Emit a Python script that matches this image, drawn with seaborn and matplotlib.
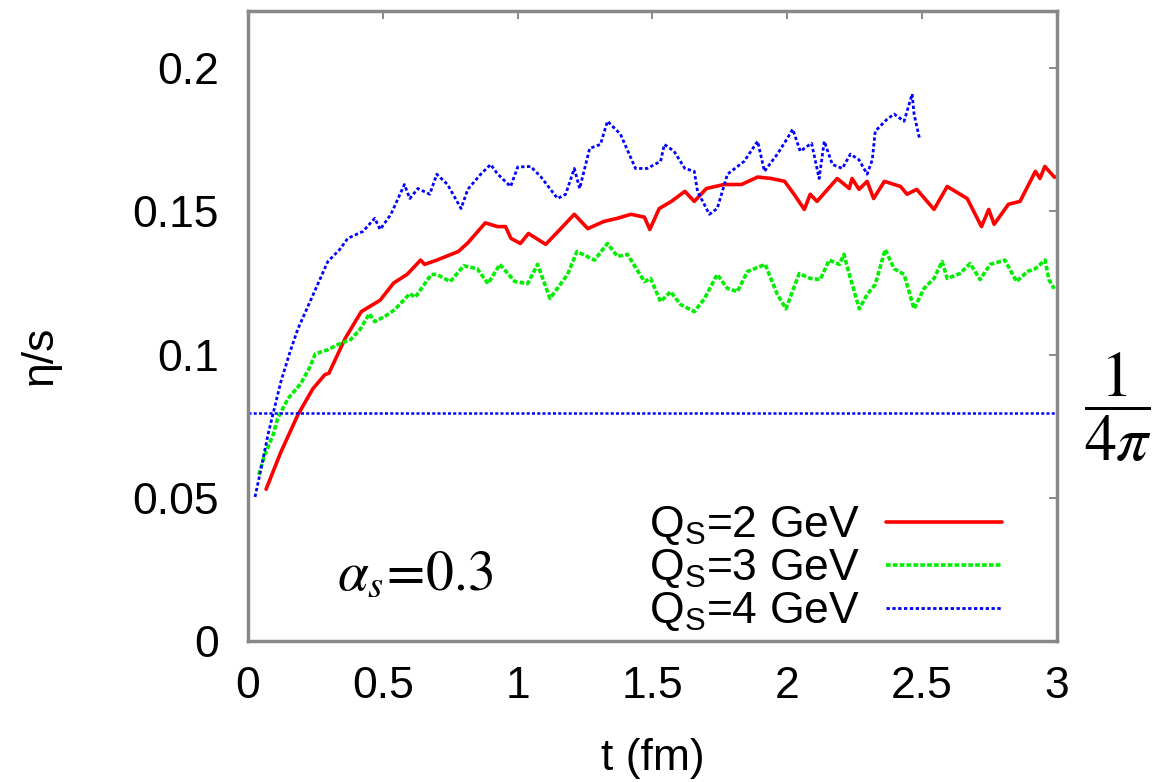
import matplotlib
matplotlib.use("Agg")
import matplotlib.pyplot as plt
import numpy as np
import seaborn as sns

# eta/s vs time
t_q2 = [0.067, 0.122, 0.185, 0.24, 0.285, 0.30, 0.36, 0.42, 0.49, 0.54, 0.59, 0.64, 0.655,
        0.70, 0.78, 0.815, 0.88, 0.925, 0.955, 0.975, 1.01, 1.04, 1.104, 1.16, 1.21, 1.26,
        1.32, 1.37, 1.42, 1.47, 1.49, 1.525, 1.57, 1.62, 1.655, 1.70, 1.765, 1.83, 1.89,
        1.94, 1.99, 2.025, 2.063, 2.085, 2.11, 2.185, 2.23, 2.24, 2.266, 2.296, 2.32, 2.36,
        2.42, 2.444, 2.48, 2.544, 2.593, 2.667, 2.72, 2.747, 2.767, 2.82, 2.863, 2.92,
        2.937, 2.955, 2.99, 3.0]
eta_q2 = [0.053, 0.066, 0.079, 0.088, 0.093, 0.0935, 0.1056, 0.115, 0.119, 0.125, 0.128,
          0.133, 0.1315, 0.133, 0.136, 0.139, 0.146, 0.1447, 0.1447, 0.1406, 0.1388, 0.1423,
          0.1385, 0.144, 0.149, 0.144, 0.1465, 0.1476, 0.149, 0.148, 0.1437, 0.151, 0.1535,
          0.157, 0.1535, 0.158, 0.1594, 0.1594, 0.162, 0.1615, 0.1605, 0.156, 0.1507, 0.156,
          0.1535, 0.1615, 0.158, 0.1615, 0.1577, 0.1605, 0.1545, 0.1605, 0.1587, 0.156,
          0.1577, 0.1507, 0.1587, 0.1545, 0.1447, 0.1507, 0.1455, 0.1525, 0.1535, 0.164,
          0.1615, 0.1657, 0.162, 0.162]

t_q3 = [0.04, 0.062, 0.093, 0.11, 0.148, 0.196, 0.23, 0.25, 0.296, 0.34, 0.38, 0.415, 0.45,
        0.47, 0.507, 0.544, 0.60, 0.62, 0.68, 0.70, 0.75, 0.80, 0.85, 0.89, 0.934, 0.99,
        1.037, 1.074, 1.12, 1.185, 1.22, 1.285, 1.333, 1.37, 1.407, 1.47, 1.493, 1.53,
        1.567, 1.604, 1.655, 1.693, 1.74, 1.778, 1.815, 1.852, 1.918, 1.963, 1.995, 2.044,
        2.085, 2.122, 2.155, 2.193, 2.21, 2.23, 2.267, 2.296, 2.326, 2.363, 2.396, 2.433,
        2.47, 2.507, 2.544, 2.574, 2.593, 2.64, 2.678, 2.715, 2.752, 2.807, 2.85, 2.89,
        2.92, 2.956, 2.97, 2.99]
eta_q3 = [0.058, 0.065, 0.072, 0.0777, 0.0846, 0.0899, 0.0958, 0.1003, 0.1017, 0.1038,
          0.1052, 0.1087, 0.1143, 0.1115, 0.1133, 0.1157, 0.1213, 0.120, 0.128, 0.128,
          0.1255, 0.131, 0.130, 0.1248, 0.1315, 0.1255, 0.1248, 0.1315, 0.1196, 0.128,
          0.136, 0.133, 0.1388, 0.1343, 0.135, 0.1255, 0.1266, 0.1185, 0.122, 0.1175, 0.115,
          0.1196, 0.128, 0.1231, 0.122, 0.129, 0.1315, 0.121, 0.116, 0.1283, 0.1266, 0.1262,
          0.133, 0.1315, 0.135, 0.128, 0.116, 0.121, 0.1245, 0.1367, 0.130, 0.128, 0.116,
          0.1231, 0.1266, 0.1325, 0.1266, 0.1283, 0.1318, 0.1262, 0.1315, 0.133, 0.1255,
          0.129, 0.130, 0.133, 0.1262, 0.123]

t_q4 = [0.026, 0.048, 0.074, 0.093, 0.122, 0.156, 0.185, 0.23, 0.296, 0.34, 0.37, 0.426,
        0.47, 0.49, 0.53, 0.58, 0.60, 0.63, 0.674, 0.70, 0.74, 0.79, 0.815, 0.863, 0.90,
        0.926, 0.974, 1.0, 1.048, 1.085, 1.148, 1.178, 1.21, 1.23, 1.267, 1.307, 1.333,
        1.381, 1.437, 1.48, 1.53, 1.544, 1.58, 1.62, 1.655, 1.667, 1.711, 1.74, 1.778,
        1.84, 1.89, 1.915, 1.963, 2.0, 2.02, 2.048, 2.09, 2.118, 2.137, 2.167, 2.204,
        2.234, 2.266, 2.296, 2.315, 2.326, 2.37, 2.396, 2.433, 2.463, 2.47, 2.49]
eta_q4 = [0.0503, 0.060, 0.072, 0.0794, 0.0906, 0.101, 0.109, 0.1185, 0.1325, 0.1367,
          0.1406, 0.143, 0.1476, 0.1437, 0.149, 0.1594, 0.1545, 0.158, 0.156, 0.163, 0.1594,
          0.151, 0.1577, 0.163, 0.1664, 0.163, 0.1587, 0.1655, 0.1657, 0.1622, 0.1545, 0.156,
          0.165, 0.158, 0.172, 0.1734, 0.1815, 0.177, 0.165, 0.165, 0.1675, 0.1734, 0.171,
          0.165, 0.164, 0.157, 0.149, 0.151, 0.163, 0.1675, 0.1745, 0.164, 0.170, 0.1755,
          0.1787, 0.171, 0.1738, 0.1615, 0.1745, 0.1664, 0.165, 0.170, 0.168, 0.163, 0.168,
          0.178, 0.1822, 0.184, 0.1815, 0.191, 0.184, 0.1755]

kss_bound = 1 / (4 * np.pi)

labels = ["Q$_{\\mathregular{S}}$=2 GeV", "Q$_{\\mathregular{S}}$=3 GeV",
          "Q$_{\\mathregular{S}}$=4 GeV"]
xticks = [0, 0.5, 1, 1.5, 2, 2.5, 3]
xtick_labels = ["0", "0.5", "1", "1.5", "2", "2.5", "3"]
yticks = [0, 0.05, 0.1, 0.15, 0.2]
ytick_labels = ["0", "0.05", "0.1", "0.15", "0.2"]

sns.set_style("white")
plt.rcParams["font.family"] = ["Liberation Sans", "DejaVu Sans"]
plt.rcParams["mathtext.fontset"] = "custom"
plt.rcParams["mathtext.rm"] = "Liberation Sans"
plt.rcParams["text.color"] = "black"
plt.rcParams["axes.labelcolor"] = "black"
plt.rcParams["xtick.labelcolor"] = "black"
plt.rcParams["ytick.labelcolor"] = "black"

fig = plt.figure(figsize=(11.66, 7.82), dpi=100)
ax = fig.add_axes([0.2127, 0.1803, 0.6938, 0.8057])

sns.lineplot(x=t_q2, y=eta_q2, ax=ax, color="#ff0000", lw=2.6, label=labels[0])
sns.lineplot(x=t_q3, y=eta_q3, ax=ax, color="#00ee00", lw=2.6, label=labels[1])
ax.lines[-1].set_dashes((1.3, 0.6))
sns.lineplot(x=t_q4, y=eta_q4, ax=ax, color="#0000ff", lw=2.0, label=labels[2])
ax.lines[-1].set_dashes((1.2, 0.9))
ax.axhline(kss_bound, color="#0000ff", lw=1.8, dashes=(1.2, 0.9))

ax.set_xlim(0, 3)
ax.set_ylim(0, 0.22)
ax.set_xticks(xticks)
ax.set_xticklabels(xtick_labels)
ax.set_yticks(yticks)
ax.set_yticklabels(ytick_labels)
ax.tick_params(direction="in", length=6, width=1.2, color="#777777",
               top=True, right=True, labelsize=32, labelcolor="black")
ax.tick_params(axis="y", pad=21)
ax.tick_params(axis="x", pad=18)
for sp in ax.spines.values():
    sp.set_color("#888888")
    sp.set_linewidth(2.5)

ax.set_xlabel("t (fm)", fontsize=32)
ax.set_ylabel("η/s", fontsize=32)
ax.xaxis.set_label_coords(0.5, -0.186)
ax.xaxis.label.set_va("center")
ax.yaxis.set_label_coords(-0.257, 0.454)
ax.yaxis.label.set_va("center")

ax.text(0.33, 0.023, r"$\alpha_s\!=\!0.3$", fontsize=40, math_fontfamily="stix",
        ha="left", va="center")
ax.text(1.033, kss_bound + 0.002, r"$\dfrac{1}{4\pi}$", fontsize=46,
        math_fontfamily="stix", transform=ax.get_yaxis_transform(),
        ha="left", va="center")

ax.legend(loc="lower right", bbox_to_anchor=(0.932, 0.012), frameon=False,
          markerfirst=False, fontsize=32, handlelength=2.6, handletextpad=0.6,
          labelspacing=0.0, borderpad=0, borderaxespad=0)

fig.savefig("out.png", dpi=100)
